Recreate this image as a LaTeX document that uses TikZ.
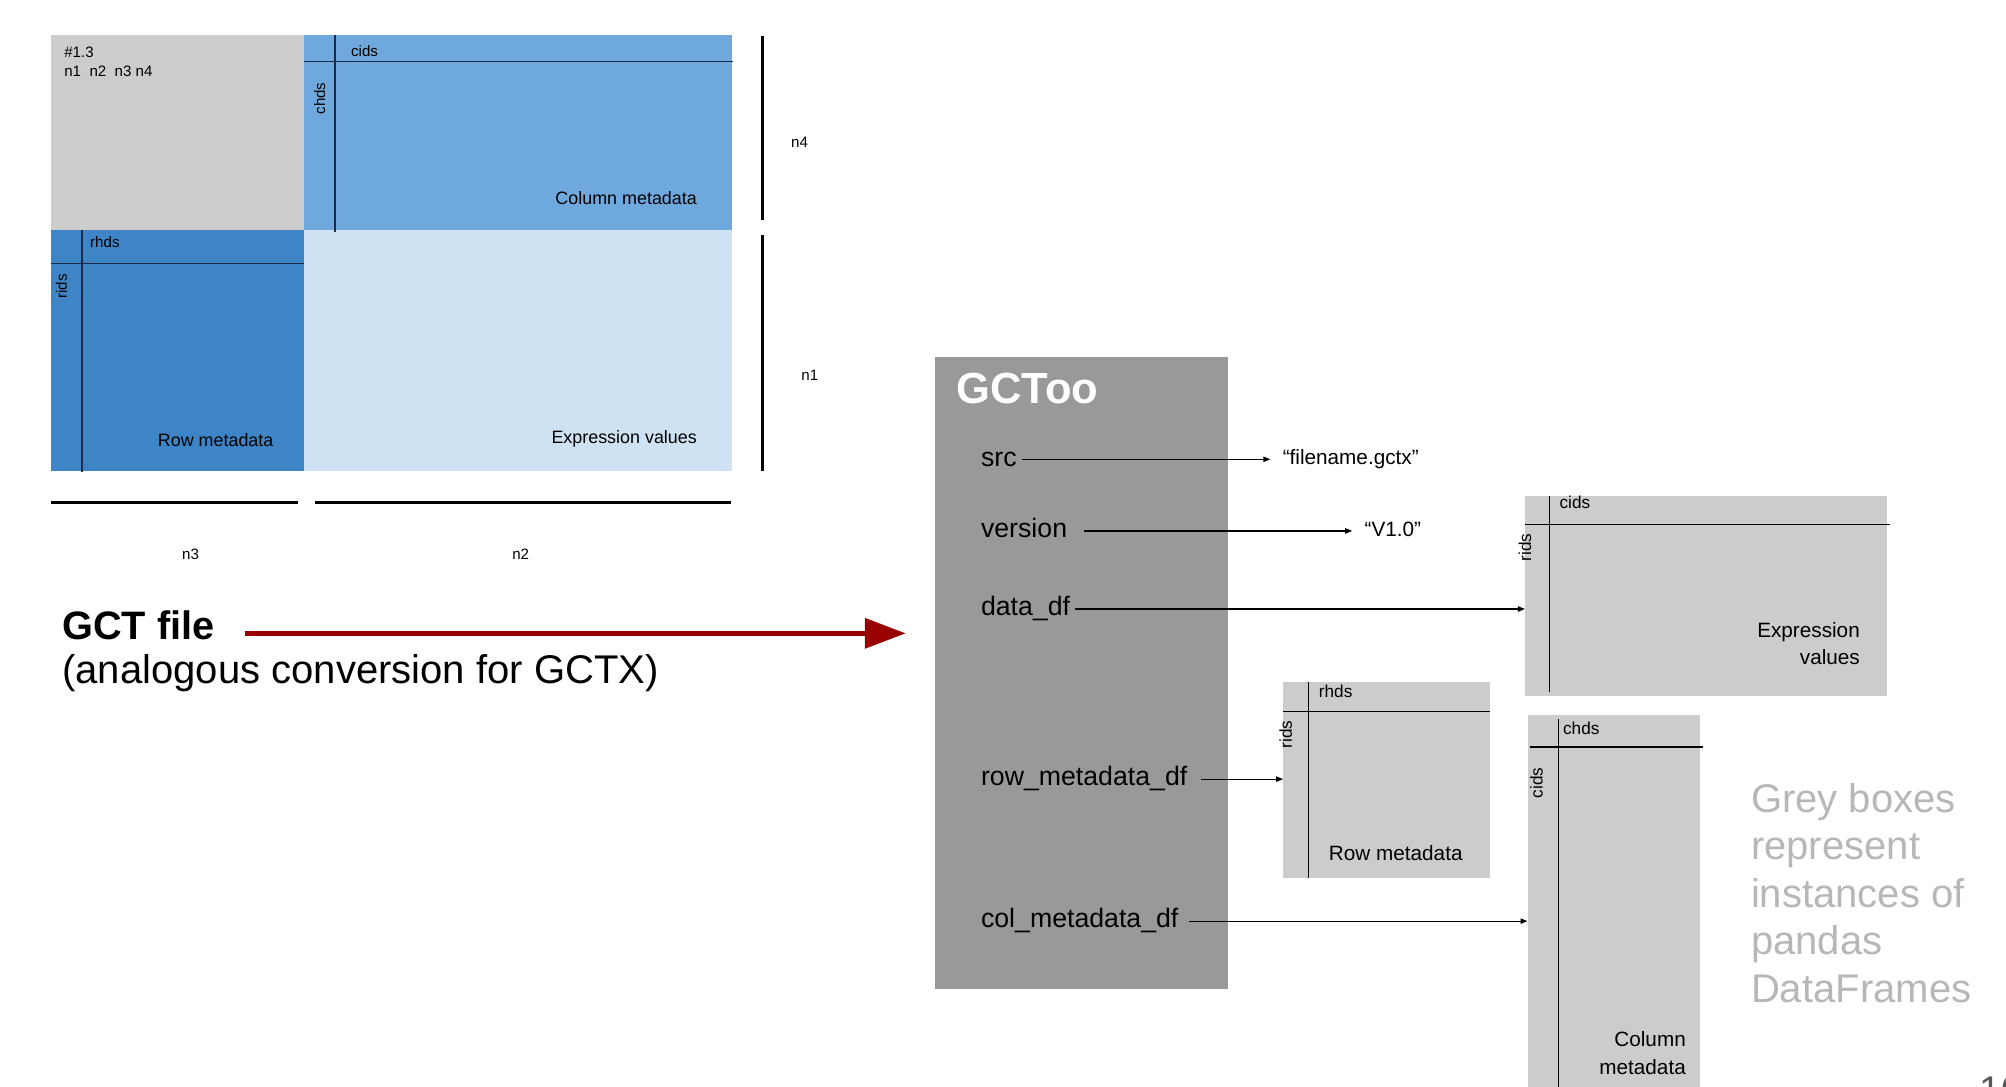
\documentclass[tikz,border=0pt]{standalone}
\usepackage{fontspec}
\setmainfont{Liberation Sans}
\usepackage{tikz}
\usetikzlibrary{arrows.meta, positioning, fit, calc}
\definecolor{headgray}{HTML}{CCCCCC}
\definecolor{colblue}{HTML}{6FA8DC}
\definecolor{rowblue}{HTML}{3D85C6}
\definecolor{exprblue}{HTML}{CFE2F3}
\definecolor{gridnavy}{HTML}{1C2B45}
\definecolor{objgray}{HTML}{999999}
\definecolor{dfgray}{HTML}{CCCCCC}
\definecolor{notegray}{HTML}{B7B7B7}
\definecolor{pagegray}{HTML}{595959}
\definecolor{convred}{HTML}{990000}

\begin{document}
\begin{tikzpicture}[
    x=0.0128cm, y=-0.0128cm,
    panel/.style={inner sep=0pt, outer sep=0pt, draw=none},
    dframe/.style={panel, fill=dfgray},
    tinytext/.style={font=\fontsize{4.3}{5.5}\selectfont, inner sep=1pt},
    celltext/.style={font=\fontsize{5.1}{6.5}\selectfont, inner sep=1pt},
    dflabel/.style={font=\fontsize{4.9}{6}\selectfont, inner sep=1pt},
    dftext/.style={font=\fontsize{5.9}{7.8}\selectfont, inner sep=1pt},
    field/.style={font=\fontsize{7.6}{9}\selectfont, anchor=west, inner sep=1.2pt, text height=3.9pt, text depth=0pt},
    value/.style={font=\fontsize{5.9}{7}\selectfont, anchor=west, text height=3.1pt, text depth=0pt},
    ptr/.style={-{Triangle[length=2pt, width=1.5pt]}, line width=0.35pt},
    bigarrow/.style={-{Triangle[length=11.6pt, width=8.4pt]}, line width=1.4pt, convred},
    rule/.style={line width=0.4pt},
    dimline/.style={line width=0.8pt},
]
\useasboundingbox (0,0) rectangle (1568,849);

% GCT file layout
\node[panel, fill=headgray, fit={(40,27) (238,180)}] (hdr) {};
\node[panel, fill=colblue, fit={(238,27) (572,180)}] (colmeta) {};
\node[panel, fill=rowblue, fit={(40,180) (238,368)}] (rowmeta) {};
\node[panel, fill=exprblue, fit={(238,180) (572,368)}] (exprvals) {};
\draw[rule, gridnavy] (262,27) -- (262,181);
\draw[rule, gridnavy] (238,48) -- (573,48);
\draw[rule, gridnavy] (40,206) -- (238,206);
\draw[rule, gridnavy] (64,180) -- (64,369);

\node[tinytext, anchor=west, align=left] (verline) at (47,48.5) {\#1.3\\n1\ \ n2\ \ n3 n4};
\node[tinytext] (cidslbl) at (285,40) {cids};
\node[tinytext, rotate=90] (chdslbl) at (250,77) {chds};
\node[celltext, anchor=east] (colmetalbl) at (548,155) {Column metadata};
\node[tinytext] (rhdslbl) at (82,189) {rhds};
\node[tinytext, rotate=90] (ridslbl) at (48,224) {rids};
\node[celltext, anchor=east] (rowmetalbl) at (217,344) {Row metadata};
\node[celltext, anchor=east] (exprlbl) at (548,343) {Expression values};

% Dimensions
\draw[dimline] (596,28) -- (596,172);
\draw[dimline] (596,184) -- (596,368);
\draw[dimline] (40,393) -- (233,393);
\draw[dimline] (246,393) -- (571,393);
\node[tinytext] (dimfour) at (625,111) {n4};
\node[tinytext] (dimone) at (633,293) {n1};
\node[tinytext] (dimthree) at (149,433) {n3};
\node[tinytext] (dimtwo) at (407,433) {n2};

\node[anchor=west, font=\bfseries\fontsize{11.3}{13}\selectfont] (gctfile) at (39,489) {GCT file};
\node[anchor=west, font=\fontsize{11.4}{13}\selectfont] (gctnote) at (39,526) {(analogous conversion for GCTX)};

% GCToo object
\node[panel, fill=objgray, fit={(731,279) (960,773)}] (gctoo) {};
\node[anchor=west, text=white, font=\bfseries\fontsize{12.4}{14}\selectfont] (gctootitle) at (738,304) {GCToo};
\node[field] (src) at (763,359) {src};
\node[field] (version) at (763,415) {version};
\node[field] (datadf) at (763,476) {data\_df};
\node[field] (rowmd) at (763,609) {row\_metadata\_df};
\node[field] (colmd) at (763,720) {col\_metadata\_df};
\node[value] (fname) at (993,359) {“filename.gctx”};
\node[value] (vers) at (1057,415) {“V1.0”};

% DataFrames
\node[dframe, fit={(1192,388) (1475,544)}] (exprdf) {};
\node[dframe, fit={(1003,533) (1165,686)}] (rowdf) {};
\node[dframe, fit={(1194,559) (1329,860)}] (coldf) {};
\draw[rule] (1211,388) -- (1211,541);
\draw[rule] (1192,410) -- (1477,410);
\draw[rule] (1023,533) -- (1023,686);
\draw[rule] (1003,556) -- (1165,556);
\draw[rule] (1218,562) -- (1218,860);
\draw[rule] (1196,584) -- (1331,584);

\node[dflabel] (exprcids) at (1231,393) {cids};
\node[dflabel, rotate=90] (exprrids) at (1192,428) {rids};
\node[dftext, anchor=east, align=right] (exprtext) at (1457,503) {Expression\\values};
\node[dflabel] (rowrhds) at (1044,540) {rhds};
\node[dflabel, rotate=90] (rowrids) at (1005,574) {rids};
\node[dftext] (rowtext) at (1091,667) {Row metadata};
\node[dflabel] (colchds) at (1236,569) {chds};
\node[dflabel, rotate=90] (colcids) at (1201,612) {cids};
\node[dftext, anchor=east, align=right] (coltext) at (1321,823) {Column\\metadata};

\node[anchor=west, align=left, text=notegray, font=\fontsize{11.4}{13.5}\selectfont] (legend) at (1359,698) {Grey boxes\\represent\\instances of\\pandas\\DataFrames};
\node[anchor=north west, inner sep=0pt, text=pagegray, font=\fontsize{11}{13}\selectfont] (pagenum) at (1547,841) {10};

% Arrows
\draw[bigarrow, shorten <=5.1pt, shorten >=8.4pt] ([yshift=-2.2pt]gctfile.east) -- ([yshift=-2.2pt]gctfile.east -| gctoo.west);
\draw[ptr] (src) -- (fname);
\draw[ptr, shorten <=3.5pt] (version) -- (vers);
\draw[ptr] (datadf) -- (datadf.east -| exprdf.west);
\draw[ptr, shorten <=2.5pt] (rowmd) -- (rowmd.east -| rowdf.west);
\draw[ptr, shorten <=1.5pt] (colmd) -- (colmd.east -| coldf.west);

\end{tikzpicture}
\end{document}
